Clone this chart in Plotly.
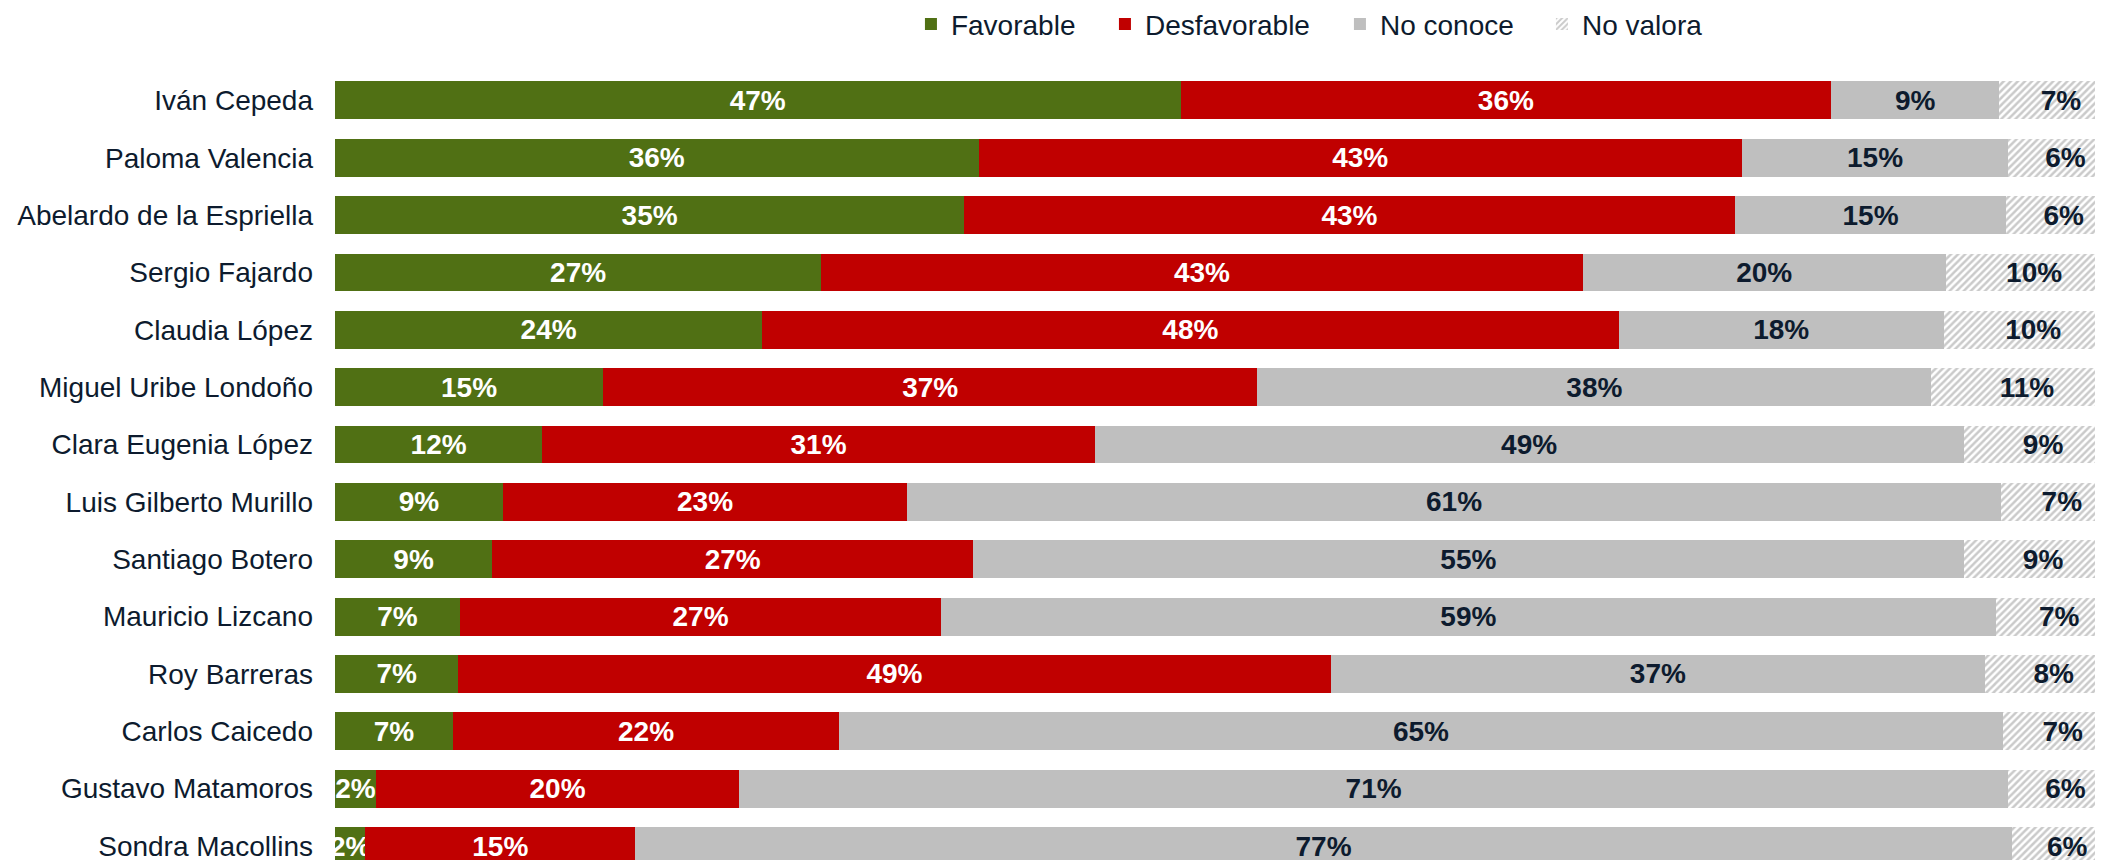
import plotly.graph_objects as go

# Candidates (top to bottom)
candidates = ["Iván Cepeda", "Paloma Valencia", "Abelardo de la Espriella", "Sergio Fajardo",
              "Claudia López", "Miguel Uribe Londoño", "Clara Eugenia López", "Luis Gilberto Murillo",
              "Santiago Botero", "Mauricio Lizcano", "Roy Barreras", "Carlos Caicedo",
              "Gustavo Matamoros", "Sondra Macollins"]

# Percentages
favorable = [47.3, 36.0, 35.2, 27.2, 23.9, 15.0, 11.6, 9.4, 8.8, 7.0, 6.9, 6.6, 2.3, 1.7]
desfavorable = [36.4, 42.7, 43.1, 42.6, 47.9, 36.6, 30.9, 22.6, 26.9, 26.9, 48.8, 21.6, 20.3, 15.1]
no_conoce = [9.4, 14.9, 15.2, 20.3, 18.2, 37.7, 48.6, 61.2, 55.4, 59.0, 36.6, 65.1, 71.0, 77.0]
no_valora = [6.9, 6.4, 6.4, 9.9, 10.0, 10.7, 8.9, 6.8, 8.9, 7.1, 7.7, 6.7, 6.4, 6.2]

series = [("Favorable", favorable, "#507014", "white", 149),
          ("Desfavorable", desfavorable, "#C00000", "white", 190),
          ("No conoce", no_conoce, "#BFBFBF", "#0D1B2E", 157),
          ("No valora", no_valora, "white", "#0D1B2E", 120)]

FONT = "Liberation Sans, Arial, sans-serif"

fig = go.Figure()
for name, vals, color, txtcolor, lw in series:
    if name == "No valora":
        marker = dict(color="white", line=dict(width=0),
                      pattern=dict(shape="/", fgcolor="#969696", bgcolor="white", size=5, solidity=0.5))
    else:
        marker = dict(color=color, line=dict(width=0))
    fig.add_trace(go.Bar(
        y=candidates, x=vals, name=name, orientation="h", marker=marker, legendwidth=lw,
        text=[f"{round(v)}%" for v in vals], textposition="inside", insidetextanchor="middle",
        textangle=0, constraintext="none",
        textfont=dict(family=FONT, size=28, color=txtcolor, weight="bold"),
        hoverinfo="skip"))

# page body has an 8px margin, so the figure is sized to end at the window edges
fig.update_layout(
    width=2095, height=854,
    barmode="stack", bargap=0.34,
    plot_bgcolor="white", paper_bgcolor="white",
    margin=dict(l=327, r=0, t=52, b=0),
    uniformtext=dict(minsize=28, mode="show"),
    font=dict(family=FONT, size=28, color="#0D1B2E"),
    legend=dict(orientation="h", xref="container", yref="container",
                x=0.431, xanchor="left", y=0.981, yanchor="middle",
                font=dict(size=28), traceorder="normal"),
    xaxis=dict(range=[0, 98.9], visible=False, fixedrange=True),
    yaxis=dict(autorange=False, range=[13.2435, -0.704], showgrid=False, zeroline=False,
               showline=False, ticks="", ticklabelstandoff=21,
               tickfont=dict(size=28, color="#0D1B2E")),
)

fig.write_html("out.html")
